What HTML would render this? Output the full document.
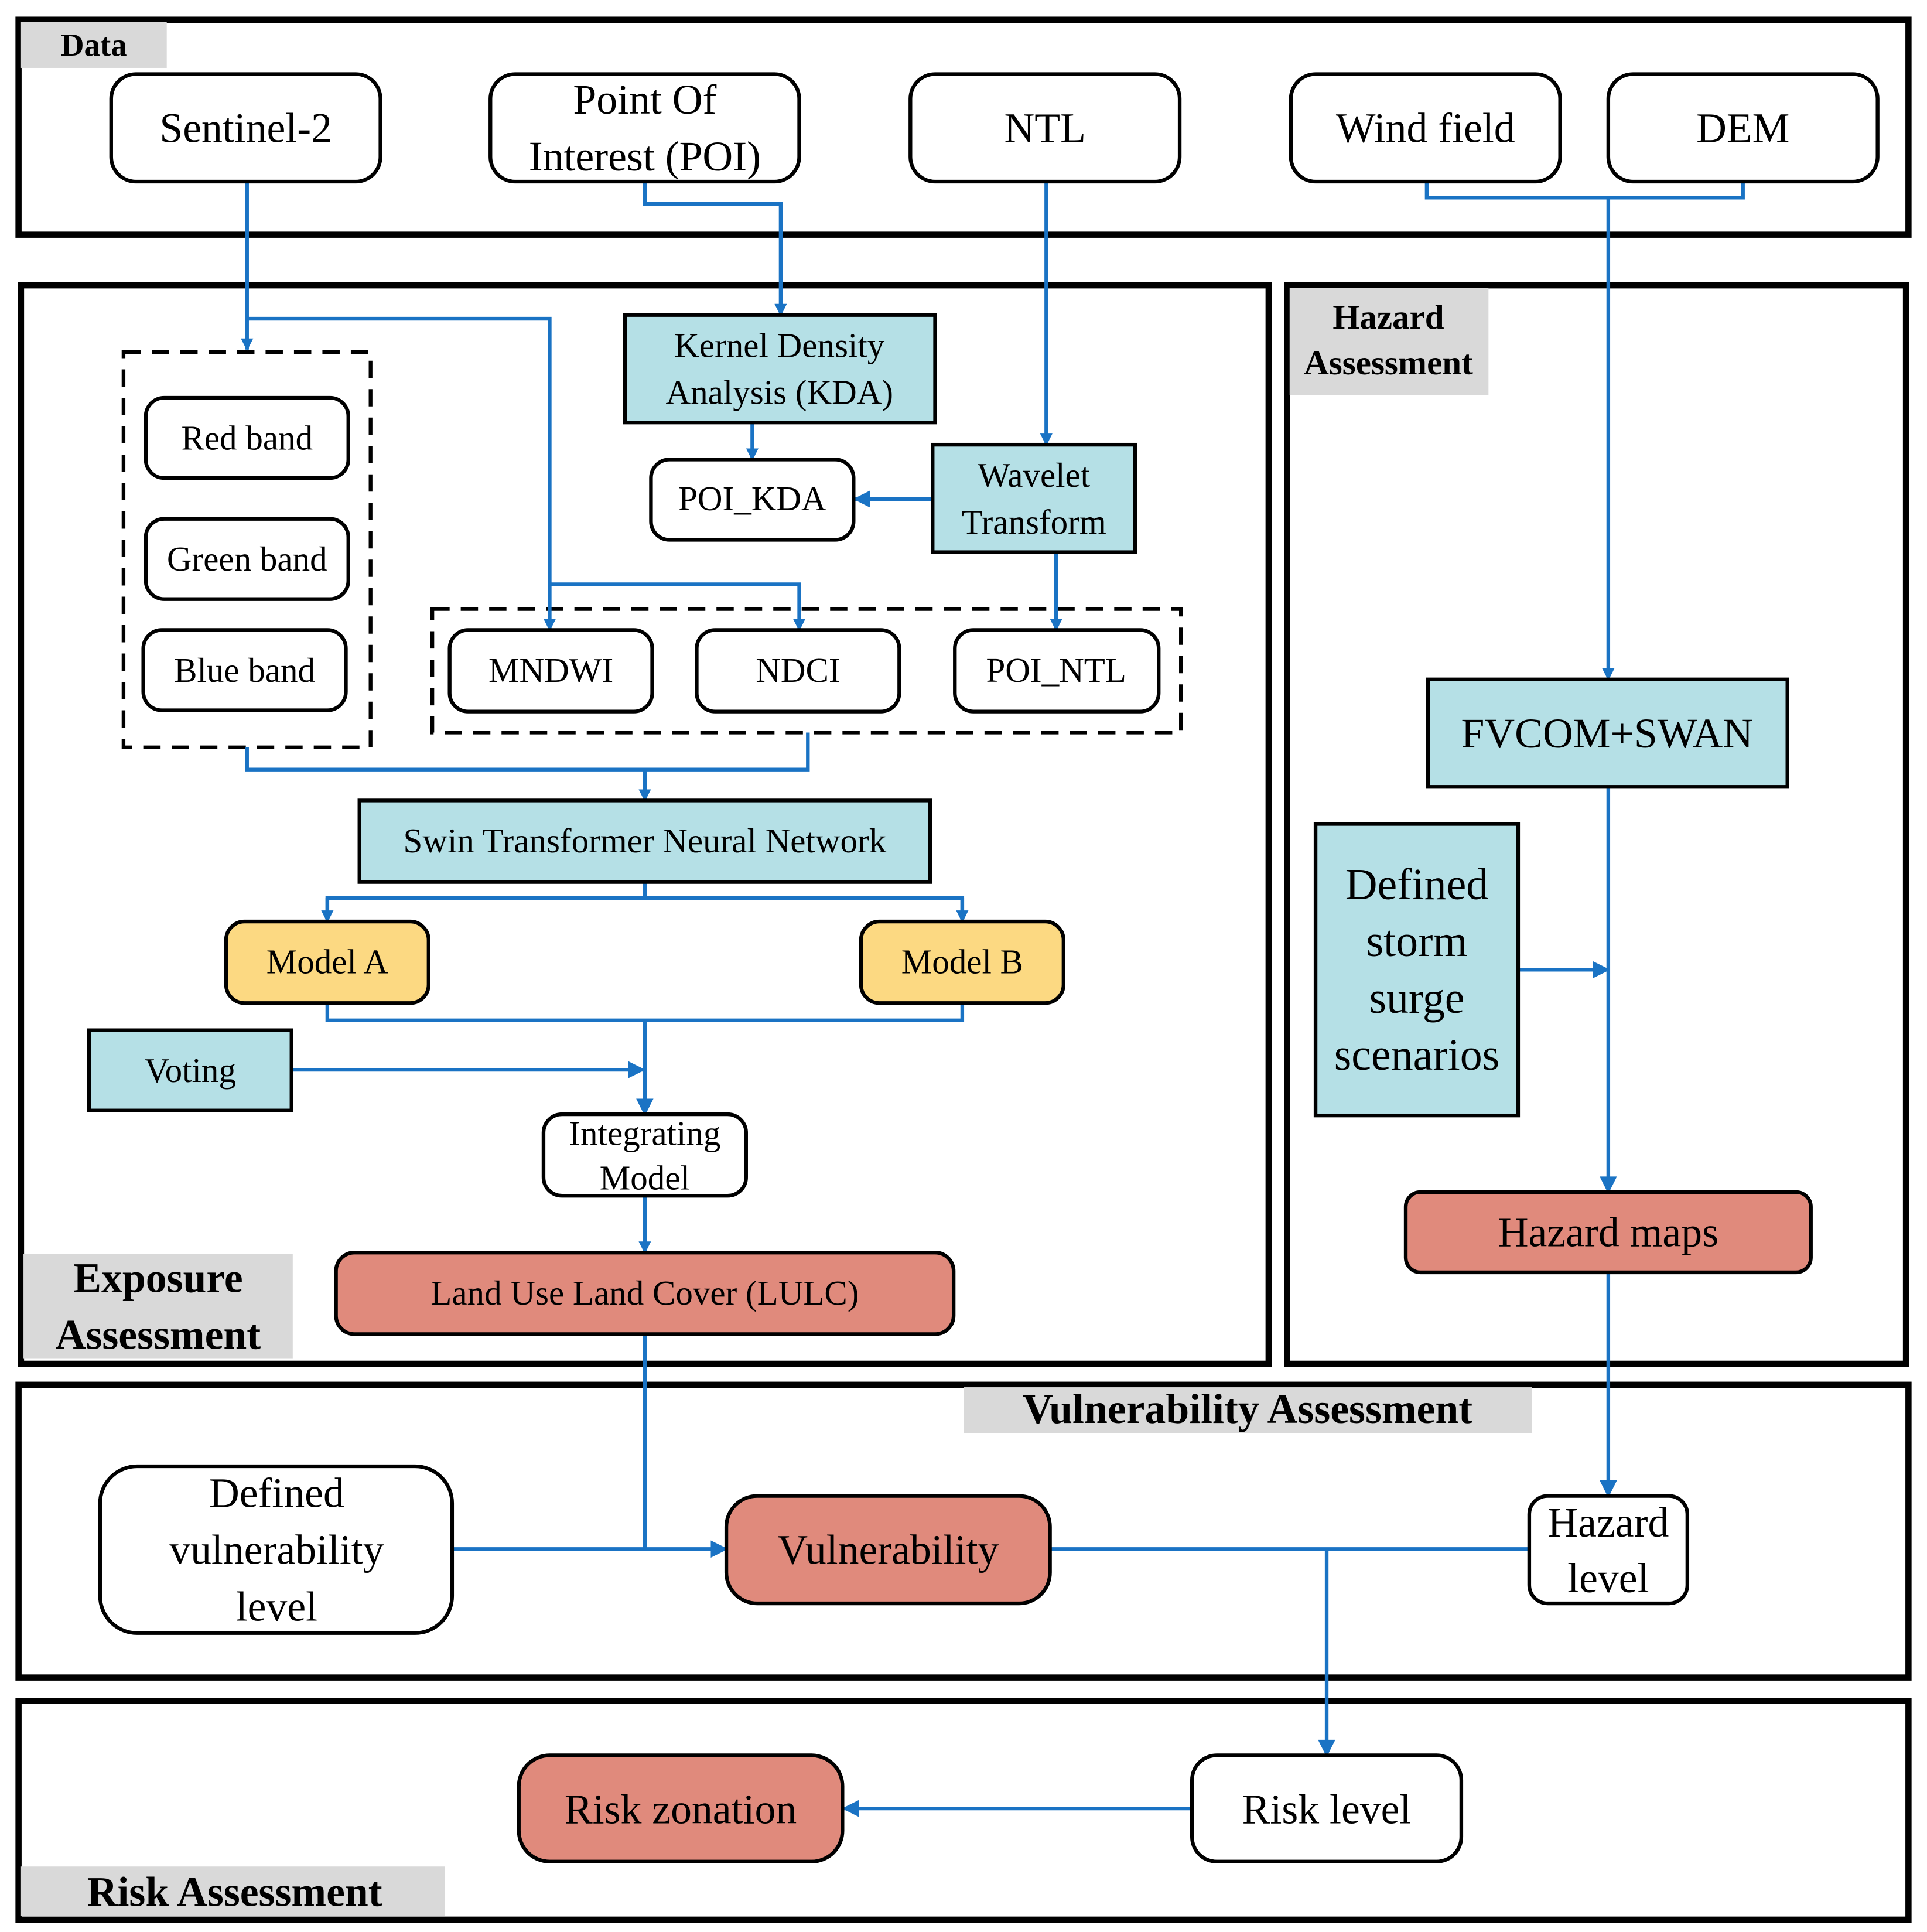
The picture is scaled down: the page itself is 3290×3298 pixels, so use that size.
<!DOCTYPE html>
<html><head><meta charset="utf-8"><style>html,body{margin:0;padding:0;background:#fff}svg{display:block}</style></head>
<body>
<svg width="3290" height="3298" viewBox="0 0 1560 1564" preserveAspectRatio="none" xmlns="http://www.w3.org/2000/svg" font-family="'Liberation Serif', serif">
<defs>
<marker id="a" viewBox="0 0 10 10" refX="9" refY="5" markerWidth="12" markerHeight="10" orient="auto" markerUnits="userSpaceOnUse"><path d="M0,0 L10,5 L0,10 Z" fill="#1a73c4"/></marker>
<marker id="b" viewBox="0 0 10 10" refX="9" refY="5" markerWidth="16" markerHeight="14" orient="auto" markerUnits="userSpaceOnUse"><path d="M0,0 L10,5 L0,10 Z" fill="#1a73c4"/></marker>
</defs>
<rect width="1560" height="1564" fill="#fff"/>
<g fill="none" stroke="#000" stroke-width="5">
<rect x="15" y="16" width="1530" height="174"/>
<rect x="17" y="231" width="1010" height="873"/>
<rect x="1042" y="231" width="501" height="873"/>
<rect x="15" y="1121" width="1530" height="237"/>
<rect x="15" y="1377" width="1530" height="177"/>
</g>
<g fill="#d9d9d9">
<rect x="17" y="18" width="118" height="37"/>
<rect x="19" y="1015" width="218" height="85"/>
<rect x="1044" y="233" width="161" height="87"/>
<rect x="780" y="1123" width="460" height="37"/>
<rect x="17" y="1511" width="343" height="40"/>
</g>
<g font-weight="bold" fill="#000" text-anchor="middle">
<text x="76" y="45" font-size="26">Data</text>
<text x="128" y="1046" font-size="34">Exposure</text>
<text x="128" y="1092" font-size="34">Assessment</text>
<text x="1124" y="266" font-size="28">Hazard</text>
<text x="1124" y="303" font-size="28">Assessment</text>
<text x="1010" y="1152" font-size="34">Vulnerability Assessment</text>
<text x="190" y="1543" font-size="34">Risk Assessment</text>
</g>
<g fill="none" stroke="#000" stroke-width="3" stroke-dasharray="14,9">
<rect x="100" y="285" width="200" height="320"/>
<rect x="350" y="493" width="606" height="100"/>
</g>
<g fill="none" stroke="#1a73c4" stroke-width="3">
<path d="M200,147 V283" marker-end="url(#a)"/>
<path d="M200,258 H445 V510" marker-end="url(#a)"/>
<path d="M445,473 H647 V510" marker-end="url(#a)"/>
<path d="M522,147 V165 H632 V255" marker-end="url(#a)"/>
<path d="M847,147 V360" marker-end="url(#a)"/>
<path d="M1155,147 V160 H1411 V147"/>
<path d="M1302,160 V550" marker-end="url(#a)"/>
<path d="M609,342 V372" marker-end="url(#a)"/>
<path d="M755,404 H692" marker-end="url(#b)"/>
<path d="M855,447 V510" marker-end="url(#a)"/>
<path d="M200,605 V623 H654 V593"/>
<path d="M522,623 V648" marker-end="url(#a)"/>
<path d="M522,714 V727"/>
<path d="M265,746 V727 H779 V746"/>
<path d="M265,727 V746" marker-end="url(#a)"/>
<path d="M779,727 V746" marker-end="url(#a)"/>
<path d="M265,812 V826 H779 V812"/>
<path d="M522,826 V902" marker-end="url(#b)"/>
<path d="M236,866 H521" marker-end="url(#b)"/>
<path d="M522,968 V1014" marker-end="url(#a)"/>
<path d="M522,1080 V1254"/>
<path d="M366,1254 H588" marker-end="url(#b)"/>
<path d="M1302,637 V965" marker-end="url(#b)"/>
<path d="M1229,785 H1302" marker-end="url(#b)"/>
<path d="M1302,1030 V1211" marker-end="url(#b)"/>
<path d="M850,1254 H1238"/>
<path d="M1074,1254 V1421" marker-end="url(#b)"/>
<path d="M965,1464 H683" marker-end="url(#b)"/>
</g>
<g stroke="#000" stroke-width="3">
<rect x="90" y="60" width="218" height="87" rx="20" fill="#fff"/>
<rect x="397" y="60" width="250" height="87" rx="20" fill="#fff"/>
<rect x="737" y="60" width="218" height="87" rx="20" fill="#fff"/>
<rect x="1045" y="60" width="218" height="87" rx="20" fill="#fff"/>
<rect x="1302" y="60" width="218" height="87" rx="20" fill="#fff"/>
<rect x="118" y="322" width="164" height="65" rx="15" fill="#fff"/>
<rect x="118" y="420" width="164" height="65" rx="15" fill="#fff"/>
<rect x="116" y="510" width="164" height="65" rx="15" fill="#fff"/>
<rect x="364" y="510" width="164" height="66" rx="15" fill="#fff"/>
<rect x="564" y="510" width="164" height="66" rx="15" fill="#fff"/>
<rect x="773" y="510" width="165" height="66" rx="15" fill="#fff"/>
<rect x="506" y="255" width="251" height="87" fill="#b5e0e6"/>
<rect x="527" y="372" width="164" height="65" rx="15" fill="#fff"/>
<rect x="755" y="360" width="164" height="87" fill="#b5e0e6"/>
<rect x="291" y="648" width="462" height="66" fill="#b5e0e6"/>
<rect x="183" y="746" width="164" height="66" rx="15" fill="#fcd982"/>
<rect x="697" y="746" width="164" height="66" rx="15" fill="#fcd982"/>
<rect x="72" y="834" width="164" height="65" fill="#b5e0e6"/>
<rect x="440" y="902" width="164" height="66" rx="15" fill="#fff"/>
<rect x="272" y="1014" width="500" height="66" rx="15" fill="#e08a7c"/>
<rect x="1156" y="550" width="291" height="87" fill="#b5e0e6"/>
<rect x="1065" y="667" width="164" height="236" fill="#b5e0e6"/>
<rect x="1138" y="965" width="328" height="65" rx="12" fill="#e08a7c"/>
<rect x="81" y="1187" width="285" height="135" rx="30" fill="#fff"/>
<rect x="588" y="1211" width="262" height="87" rx="25" fill="#e08a7c"/>
<rect x="1238" y="1211" width="128" height="87" rx="15" fill="#fff"/>
<rect x="965" y="1421" width="218" height="86" rx="20" fill="#fff"/>
<rect x="420" y="1421" width="262" height="86" rx="25" fill="#e08a7c"/>
</g>
<g fill="#000" text-anchor="middle">
<g font-size="34">
<text x="199" y="115">Sentinel-2</text>
<text x="522" y="92">Point Of</text>
<text x="522" y="138">Interest (POI)</text>
<text x="846" y="115">NTL</text>
<text x="1154" y="115">Wind field</text>
<text x="1411" y="115">DEM</text>
<text x="1301" y="605">FVCOM+SWAN</text>
<text x="1302" y="1009">Hazard maps</text>
<text x="224" y="1220">Defined</text>
<text x="224" y="1266">vulnerability</text>
<text x="224" y="1312">level</text>
<text x="719" y="1266">Vulnerability</text>
<text x="1302" y="1244">Hazard</text>
<text x="1302" y="1289">level</text>
<text x="1074" y="1476">Risk level</text>
<text x="551" y="1476">Risk zonation</text>
</g>
<g font-size="36">
<text x="1147" y="728">Defined</text>
<text x="1147" y="774">storm</text>
<text x="1147" y="820">surge</text>
<text x="1147" y="866">scenarios</text>
</g>
<g font-size="28">
<text x="200" y="364">Red band</text>
<text x="200" y="462">Green band</text>
<text x="198" y="552">Blue band</text>
<text x="446" y="552">MNDWI</text>
<text x="646" y="552">NDCI</text>
<text x="855" y="552">POI_NTL</text>
<text x="631" y="289">Kernel Density</text>
<text x="631" y="327">Analysis (KDA)</text>
<text x="609" y="413">POI_KDA</text>
<text x="837" y="394">Wavelet</text>
<text x="837" y="432">Transform</text>
<text x="522" y="690">Swin Transformer Neural Network</text>
<text x="265" y="788">Model A</text>
<text x="779" y="788">Model B</text>
<text x="154" y="876">Voting</text>
<text x="522" y="927">Integrating</text>
<text x="522" y="963">Model</text>
<text x="522" y="1056">Land Use Land Cover (LULC)</text>
</g>
</g>
</svg>
</body></html>
